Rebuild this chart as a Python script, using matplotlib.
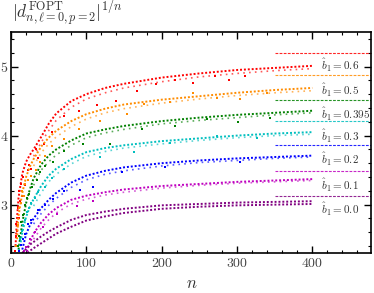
import matplotlib
matplotlib.use('Agg')
import matplotlib.pyplot as plt
from matplotlib.ticker import MultipleLocator

plt.rcParams['font.family'] = 'serif'
plt.rcParams['font.serif'] = ['cmr10', 'DejaVu Serif']
plt.rcParams['mathtext.fontset'] = 'cm'
plt.rcParams['axes.formatter.use_mathtext'] = True

# ---------------- data ----------------
b_labels = ["0.6", "0.5", "0.395", "0.3", "0.2", "0.1", "0.0"]
colors = ["#ff0000", "#ff8c00", "#008000", "#00bfbf", "#0000ff", "#bf00bf", "#800080"]
asymptotes = [5.20, 4.88, 4.52, 4.21, 3.86, 3.49, 3.13]
label_y = [5.01, 4.66, 4.31, 3.99, 3.66, 3.28, 2.93]

# upper (dense) bands
red_n = [6, 8, 10, 15, 20, 25, 30, 40, 50, 60, 80, 100, 125, 150, 200, 250, 300, 350, 400]
red_v = [2.40, 2.80, 3.10, 3.45, 3.62, 3.72, 3.80, 3.98, 4.17, 4.32, 4.50, 4.60, 4.69, 4.75, 4.84, 4.90, 4.95, 4.98, 5.01]
orange_n = [8, 10, 15, 20, 25, 30, 40, 50, 60, 80, 100, 125, 150, 200, 250, 300, 350, 400]
orange_v = [2.50, 2.84, 3.17, 3.40, 3.55, 3.66, 3.84, 3.97, 4.07, 4.21, 4.31, 4.39, 4.45, 4.52, 4.57, 4.62, 4.66, 4.69]
green_n = [10, 15, 20, 25, 30, 40, 50, 60, 80, 100, 125, 150, 200, 250, 300, 350, 400]
green_v = [2.35, 2.74, 3.02, 3.22, 3.38, 3.58, 3.71, 3.80, 3.93, 4.03, 4.09, 4.14, 4.21, 4.26, 4.30, 4.33, 4.36]
cyan_n = [12, 15, 20, 25, 30, 40, 50, 60, 80, 100, 125, 150, 200, 250, 300, 350, 400]
cyan_v = [2.40, 2.60, 2.82, 2.97, 3.08, 3.27, 3.42, 3.52, 3.66, 3.76, 3.82, 3.86, 3.92, 3.96, 4.00, 4.03, 4.05]
blue_n = [15, 20, 25, 30, 40, 50, 60, 80, 100, 125, 150, 200, 250, 300, 350, 400]
blue_v = [2.35, 2.57, 2.70, 2.80, 2.95, 3.07, 3.17, 3.32, 3.42, 3.49, 3.54, 3.60, 3.64, 3.67, 3.69, 3.71]
magenta_n = [21, 25, 30, 40, 50, 60, 80, 100, 125, 150, 200, 250, 300, 350, 400]
magenta_v = [2.32, 2.45, 2.58, 2.74, 2.86, 2.95, 3.07, 3.13, 3.18, 3.22, 3.27, 3.30, 3.33, 3.35, 3.37]
purple_n = [15, 20, 25, 30, 40, 50, 60, 80, 100, 125, 150, 200, 250, 300, 350, 400]
purple_v = [2.30, 2.36, 2.42, 2.46, 2.54, 2.61, 2.67, 2.78, 2.85, 2.90, 2.94, 2.99, 3.01, 3.03, 3.04, 3.05]
purple2_n = [22, 25, 30, 40, 50, 60, 80, 100, 125, 150, 200, 250, 300, 350, 400]
purple2_v = [2.30, 2.33, 2.37, 2.44, 2.51, 2.58, 2.68, 2.77, 2.83, 2.88, 2.94, 2.97, 2.99, 3.00, 3.01]

# lower (sparser) rows
low_n = [30, 40, 50, 60, 80, 100, 125, 150, 200, 250, 300, 350, 400]
red_low = [3.70, 3.90, 4.07, 4.22, 4.41, 4.53, 4.62, 4.69, 4.78, 4.85, 4.90, 4.94, 4.97]
orange_low = [3.56, 3.75, 3.88, 3.98, 4.13, 4.24, 4.33, 4.39, 4.47, 4.53, 4.58, 4.62, 4.65]
green_low = [3.28, 3.50, 3.62, 3.72, 3.86, 3.97, 4.04, 4.09, 4.17, 4.22, 4.26, 4.30, 4.33]
cyan_low = [2.98, 3.17, 3.33, 3.44, 3.59, 3.70, 3.77, 3.82, 3.88, 3.93, 3.97, 4.00, 4.02]
blue_low = [2.72, 2.87, 2.99, 3.09, 3.25, 3.36, 3.44, 3.49, 3.56, 3.61, 3.64, 3.67, 3.69]
magenta_low = [2.50, 2.66, 2.78, 2.88, 3.01, 3.08, 3.14, 3.18, 3.24, 3.28, 3.31, 3.33, 3.35]

# scattered points (early region and dips)
red_sc_n = [5, 6, 7, 8, 9, 10, 11, 12, 13, 14, 16, 18, 22, 24, 27, 33, 36, 44, 55, 70, 90, 114, 140, 167, 193, 218, 242, 271, 289, 311]
red_sc_v = [2.33, 2.55, 2.72, 2.62, 2.95, 2.80, 3.20, 3.05, 3.30, 3.12, 3.40, 3.28, 3.50, 3.58, 3.52, 3.80, 3.68, 3.88, 4.05, 4.28, 4.35, 4.45, 4.50, 4.64, 4.74, 4.81, 4.76, 4.87, 4.81, 4.87]
orange_sc_n = [7, 9, 11, 13, 14, 17, 19, 23, 26, 33, 38, 45, 55, 70, 90, 118, 154, 176, 211, 242, 273, 304, 340]
orange_sc_v = [2.40, 2.70, 2.95, 3.02, 3.20, 3.12, 3.30, 3.35, 3.42, 3.50, 3.62, 3.70, 3.85, 3.95, 4.10, 4.21, 4.31, 4.46, 4.48, 4.62, 4.55, 4.53, 4.62]
green_sc_n = [9, 11, 13, 16, 18, 21, 24, 28, 34, 38, 45, 56, 70, 95, 131, 174, 218, 260, 302, 344]
green_sc_v = [2.40, 2.55, 2.75, 2.85, 3.00, 3.10, 3.15, 3.25, 3.35, 3.48, 3.56, 3.62, 3.78, 3.88, 3.88, 4.10, 4.14, 4.24, 4.19, 4.26]
cyan_sc_n = [10, 12, 14, 16, 18, 21, 24, 27, 32, 36, 45, 55, 70, 118, 163, 211, 273, 326]
cyan_sc_v = [2.35, 2.50, 2.62, 2.70, 2.78, 2.90, 2.95, 3.02, 3.10, 3.18, 3.25, 3.38, 3.52, 3.69, 3.76, 3.90, 3.99, 3.97]
blue_sc_n = [11, 13, 16, 18, 23, 27, 36, 45, 56, 70, 92, 109, 147, 205, 304]
blue_sc_v = [2.33, 2.42, 2.50, 2.58, 2.72, 2.78, 2.92, 3.00, 3.08, 3.20, 3.21, 3.26, 3.48, 3.55, 3.62]
magenta_sc_n = [17, 20, 25, 32, 43, 61, 87, 109]
magenta_sc_v = [2.33, 2.38, 2.50, 2.60, 2.67, 2.86, 2.98, 3.06]

upper_n = [red_n, orange_n, green_n, cyan_n, blue_n, magenta_n, purple_n]
upper_v = [red_v, orange_v, green_v, cyan_v, blue_v, magenta_v, purple_v]
lower_v = [red_low, orange_low, green_low, cyan_low, blue_low, magenta_low]
sc_n = [red_sc_n, orange_sc_n, green_sc_n, cyan_sc_n, blue_sc_n, magenta_sc_n]
sc_v = [red_sc_v, orange_sc_v, green_sc_v, cyan_sc_v, blue_sc_v, magenta_sc_v]

x_ticks = [0, 100, 200, 300, 400]
y_ticks = [3, 4, 5]

# ---------------- figure ----------------
fig = plt.figure(figsize=(3.74, 2.93), dpi=100)
ax = fig.add_axes([11/374, 40/293, 360/374, 221/293])

for i, c in enumerate(colors):
    ax.plot(upper_n[i], upper_v[i], color=c, ls=(0, (1, 1)), lw=1.4)
    if i < 6:
        ax.plot(low_n, lower_v[i], color=c, ls=(0, (1, 2.5)), lw=1.2, alpha=0.65)
        ax.plot(sc_n[i], sc_v[i], ls='none', marker='s', ms=1.6, mew=0, color=c)
    ax.plot([350, 480], [asymptotes[i]] * 2, color=c, ls=(0, (2.5, 1.2)), lw=0.8, alpha=0.85)
    ax.text(412, label_y[i], r'$\hat{b}_1 = %s$' % b_labels[i], fontsize=8,
            va='center', ha='left', color='#333333')
ax.plot(purple2_n, purple2_v, color=colors[6], ls=(0, (1, 1)), lw=1.4)

ax.set_xlim(0, 478)
ax.set_ylim(2.3, 5.5)
ax.set_xticks(x_ticks)
ax.set_yticks(y_ticks)
ax.xaxis.set_minor_locator(MultipleLocator(20))
ax.yaxis.set_minor_locator(MultipleLocator(0.2))
ax.tick_params(which='both', direction='in', top=True, right=True, labelsize=10, colors='black')
ax.tick_params(which='major', length=5, width=1)
ax.tick_params(which='minor', length=2.5, width=0.8)
ax.tick_params(axis='x', pad=3)
ax.tick_params(axis='y', pad=2)
for lab in ax.get_xticklabels() + ax.get_yticklabels():
    lab.set_color('#444444')
for s in ax.spines.values():
    s.set_linewidth(1.2)

fig.text(12/374, 1 - 14/293, r'$|d^{\rm FOPT}_{n,\ell=0,p=2}|^{1/n}$', fontsize=12.5,
         va='center', ha='left', color='#333333')
fig.text(192/374, 1 - 283/293, r'$n$', fontsize=12, va='center', ha='center', color='#333333')

fig.savefig('out.png', dpi=100)
